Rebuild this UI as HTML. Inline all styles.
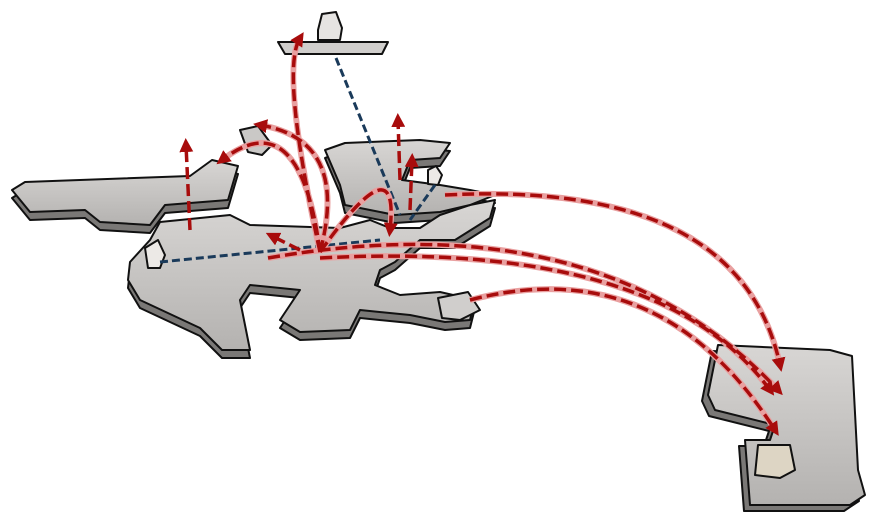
<!DOCTYPE html>
<html><head><meta charset="utf-8"><style>html,body{margin:0;padding:0;background:#fff;width:875px;height:531px;overflow:hidden}</style></head>
<body>
<svg width="875" height="531" viewBox="0 0 875 531" xmlns="http://www.w3.org/2000/svg">
<defs>
<linearGradient id="g" x1="0" y1="0" x2="0" y2="1"><stop offset="0" stop-color="#d8d6d4"/><stop offset="1" stop-color="#b4b2b0"/></linearGradient>
<marker id="ah" markerWidth="4" markerHeight="4" refX="2" refY="2" orient="auto"><path d="M0,0 L4,2 L0,4 Z" fill="#a80c0c"/></marker>
<g id="left"><polygon points="12,190 25,182 190,176 212,160 238,166 228,200 165,205 150,225 100,222 85,210 30,212"/></g>
<g id="main"><polygon points="130,262 150,240 160,222 230,215 250,225 340,228 370,220 390,228 420,228 440,215 470,205 495,200 490,218 455,240 420,240 395,262 380,270 375,285 400,295 440,292 475,300 470,320 445,322 410,315 360,310 350,330 300,332 280,320 300,290 250,285 240,300 250,350 222,350 200,328 140,300 128,280"/></g>
<g id="upr"><polygon points="325,150 345,143 420,140 450,143 440,158 410,160 402,180 440,185 470,190 495,195 470,205 440,212 395,215 370,210 345,205 340,185"/></g>
<g id="rp"><polygon points="718,345 830,350 852,356 858,470 865,495 850,505 750,505 745,440 770,440 775,425 715,410 708,395"/></g>
</defs>
<g stroke="#111" stroke-width="2" stroke-linejoin="round">
<g fill="#7a7876" transform="translate(0,8)"><use href="#left"/><use href="#main"/><use href="#upr"/></g>
<g fill="#7a7876" transform="translate(-6,6)"><use href="#rp"/></g>
<polygon points="278,42 388,42 382,54 285,54" fill="#d0cecc"/>
<polygon points="318,30 322,14 336,12 342,28 340,40 318,40" fill="#e6e4e2"/>
<polygon points="240,130 258,126 272,145 262,155 248,152" fill="#cac8c6"/>
<g fill="url(#g)"><use href="#left"/><use href="#main"/><use href="#upr"/><use href="#rp"/></g>
<polygon points="428,170 436,166 442,175 438,185 428,184" fill="#ece9e6"/>
<polygon points="145,248 158,240 165,255 160,268 148,268" fill="#ece9e6"/>
<polygon points="758,445 790,445 795,470 780,478 755,475" fill="#ddd5c4"/>
<polygon points="438,298 468,292 480,310 460,320 442,318" fill="#d0cecc"/>
</g>
<g fill="none" stroke-linecap="butt">
<g stroke="#1a3a5a" stroke-width="3" stroke-dasharray="8 4">
<path d="M336,58 L400,215"/>
<path d="M160,262 L380,240"/>
<path d="M435,185 L410,220"/>
</g>
<g stroke="#e9a0a0" stroke-width="6">
<path d="M320,252 Q280,70 300,38"/>
<path d="M320,252 Q300,100 222,160"/>
<path d="M320,252 Q350,140 260,125"/>
<path d="M320,252 Q400,140 390,230"/>
<path d="M268,258 Q600,200 778,390"/>
<path d="M445,195 Q740,180 780,365"/>
<path d="M320,258 Q660,240 770,390"/>
<path d="M470,300 Q660,250 775,430"/>
</g>
<g stroke="#a80c0c" stroke-width="3.5" stroke-dasharray="12 5" marker-end="url(#ah)">
<path d="M320,252 Q280,70 300,38"/>
<path d="M320,252 Q300,100 222,160"/>
<path d="M320,252 Q350,140 260,125"/>
<path d="M320,252 Q400,140 390,230"/>
<path d="M268,258 Q600,200 778,390"/>
<path d="M445,195 Q740,180 780,365"/>
<path d="M320,258 Q660,240 770,390"/>
<path d="M470,300 Q660,250 775,430"/>
<path d="M190,230 L186,145"/>
<path d="M400,180 L398,120"/>
<path d="M410,210 L412,160"/>
<path d="M300,250 L272,236"/>
</g>
</g>
</svg>
</body></html>
